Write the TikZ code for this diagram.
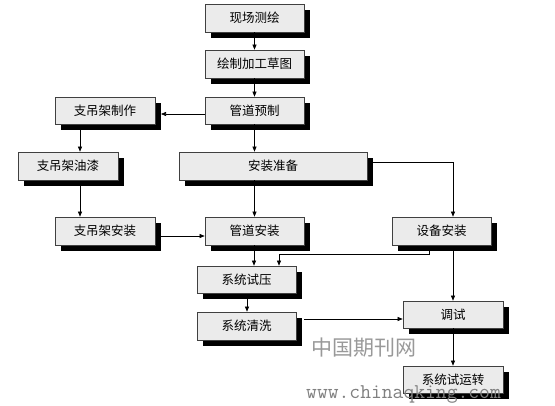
\documentclass[tikz,border=0pt]{standalone}
\usepackage{fontspec}
\newfontfamily\cjk{Noto Sans CJK SC}
\usetikzlibrary{arrows.meta,calc}
\begin{document}
\begin{tikzpicture}[x=1pt,y=-1pt,
  flowbox/.style={draw=black!75,line width=0.7pt,fill=black!8,inner sep=0pt,font=\cjk\fontsize{12.5}{12.5}\selectfont},
  conn/.style={line width=0.6pt,-{Triangle[length=5pt,width=4pt]}}]
\useasboundingbox (0,0) rectangle (555,405);
\def\mkbox#1#2#3#4#5#6{%
  \fill[black] (#2+6,#3+6) rectangle (#4+6,#5+6);
  \node[flowbox,minimum width=#4-#2,minimum height=#5-#3] (#1) at ({(#2+#4)/2},{(#3+#5)/2}) {#6};}
\mkbox{a}{205}{4}{304}{32}{现场测绘}
\mkbox{b}{205}{50}{304}{78}{绘制加工草图}
\mkbox{c}{205}{97}{304}{124}{管道预制}
\mkbox{d}{55}{97}{155}{124}{支吊架制作}
\mkbox{e}{18}{152}{118}{180}{支吊架油漆}
\mkbox{f}{179}{152}{367}{180}{安装准备}
\mkbox{g}{55}{217}{155}{245}{支吊架安装}
\mkbox{h}{205}{217}{304}{245}{管道安装}
\mkbox{i}{392}{217}{491}{245}{设备安装}
\mkbox{j}{197}{266}{296}{293}{系统试压}
\mkbox{k}{197}{312}{296}{340}{系统清洗}
\mkbox{l}{403}{301}{503}{328}{调试}
\mkbox{m}{403}{366}{503}{393}{系统试运转}
% connectors
\draw[conn] (a.south) -- (b.north);
\draw[conn] (b.south) -- (c.north);
\draw[conn] (c.west |- 0,114) -- (161,114);
\draw[conn] (80,130) -- (e.north -| 80,0);
\draw[conn] (c.south) -- (f.north -| c.south);
\draw[conn] (f.south -| h.north) -- (h.north);
\draw[conn] (373,162) -| (i.north -| 453,0);
\draw[conn] (80,186) -- (g.north -| 80,0);
\draw[conn] (161,236) -- (h.west |- 0,236);
\draw[conn] (h.south -| 254,0) -- (j.north -| 254,0);
\draw[conn] (429,251) -- (429,254) -| (j.north -| 279,0);
\draw[conn] (453,251) -- (l.north -| 453,0);
\draw[conn] (247,299) -- (k.north -| 247,0);
\draw[conn] (304,319) -- (l.west |- 0,319);
\draw[conn] (l.south -| 453,0) -- (m.north -| 453,0);
% watermark
\node[text=black!40,font=\cjk\fontsize{21}{21}\selectfont,anchor=west] (wm1) at (308,348) {中国期刊网};
\node[text=black!50,font=\ttfamily\fontsize{21}{21}\selectfont,anchor=west,inner sep=0pt] (wm2) at (306,394) {www.chinaqking.com};
\end{tikzpicture}
\end{document}
